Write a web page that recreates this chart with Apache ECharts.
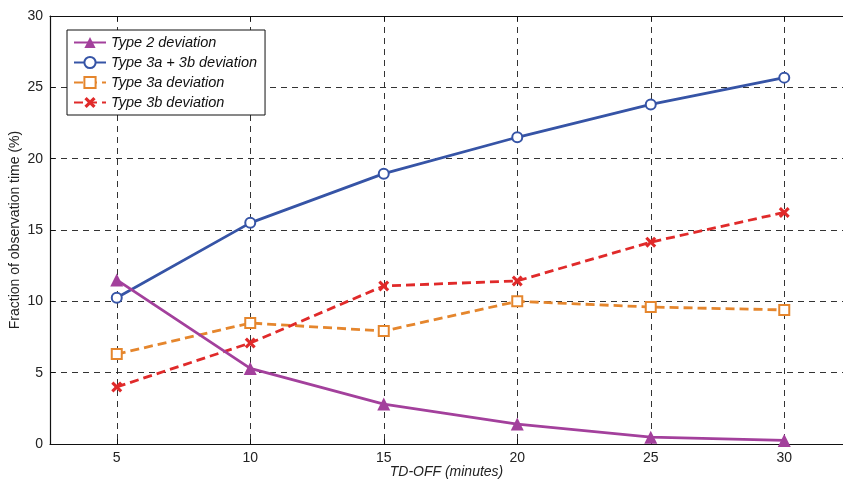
<!DOCTYPE html>
<html>
<head>
<meta charset="utf-8">
<script src="https://cdn.jsdelivr.net/npm/echarts@6/dist/echarts.min.js"></script>
<style>
  html, body { margin: 0; padding: 0; background: #fff; }
  #chart { width: 843px; height: 481px; }
</style>
</head>
<body>
<div id="chart"></div>
<script>
// TD-OFF durations (minutes)
const tdOff = [5, 10, 15, 20, 25, 30];
// Fraction of observation time (%) per deviation type
const type2 = [11.5, 5.3, 2.8, 1.4, 0.48, 0.25];
const type3ab = [10.25, 15.5, 18.95, 21.5, 23.8, 25.68];
const type3a = [6.3, 8.48, 7.92, 10.0, 9.6, 9.4];
const type3b = [4.0, 7.08, 11.08, 11.43, 14.15, 16.23];
const xTicks = [5, 10, 15, 20, 25, 30];

const pairs = vals => tdOff.map((x, i) => [x, vals[i]]);
const crossPath = 'path://M2,0 L5,3 L8,0 L10,2 L7,5 L10,8 L8,10 L5,7 L2,10 L0,8 L3,5 L0,2 Z';
const font = "'Liberation Sans', Arial, sans-serif";

const chart = echarts.init(document.getElementById('chart'), null, { renderer: 'canvas' });

const gridDash = { show: true, lineStyle: { color: '#333', width: 1, type: [6, 5] } };

chart.setOption({
  animation: false,
  backgroundColor: '#fff',
  grid: { left: 50, right: 0, top: 16, bottom: 37, containLabel: false, outerBoundsMode: 'none' },
  legend: {
    orient: 'vertical',
    left: 67, top: 30,
    padding: [5, 8, 5, 6],
    itemWidth: 32, itemHeight: 14, itemGap: 5,
    backgroundColor: '#fff',
    borderColor: '#111', borderWidth: 1, borderRadius: 0,
    textStyle: { fontFamily: font, fontSize: 14.5, fontStyle: 'italic', color: '#111' },
    data: ['Type 2 deviation', 'Type 3a + 3b deviation', 'Type 3a deviation', 'Type 3b deviation']
  },
  xAxis: [{
    type: 'value', min: 2.5, max: 32.2,
    name: 'TD-OFF (minutes)', nameLocation: 'middle', nameGap: 21, nameMoveOverlap: false,
    nameTextStyle: { fontFamily: font, fontSize: 14, fontStyle: 'italic', color: '#222' },
    axisLine: { show: true, onZero: false, lineStyle: { color: '#111', width: 1.2 } },
    axisTick: { show: true, inside: true, length: 5, customValues: xTicks, lineStyle: { color: '#111' } },
    axisLabel: { customValues: xTicks, fontFamily: font, fontSize: 14, color: '#222', margin: 7 },
    splitLine: gridDash
  }, {
    type: 'value', position: 'top', min: 2.5, max: 32.2,
    axisLine: { show: true, onZero: false, lineStyle: { color: '#111', width: 1.2 } },
    axisTick: { show: true, inside: true, length: 5, customValues: xTicks, lineStyle: { color: '#111' } },
    axisLabel: { show: false },
    splitLine: { show: false }
  }],
  yAxis: {
    type: 'value', min: 0, max: 30, interval: 5,
    name: 'Fraction of observation time (%)', nameLocation: 'middle', nameGap: 28, nameMoveOverlap: false,
    nameTextStyle: { fontFamily: font, fontSize: 14, color: '#222' },
    axisLine: { show: true, lineStyle: { color: '#111', width: 1.2 } },
    axisTick: { show: true, inside: true, length: 5, lineStyle: { color: '#111' } },
    axisLabel: { fontFamily: font, fontSize: 14, color: '#222', margin: 7 },
    splitLine: gridDash
  },
  series: [{
    name: 'Type 2 deviation', type: 'line', data: pairs(type2),
    color: '#a3409c',
    lineStyle: { width: 2.8, color: '#a3409c' },
    symbol: 'triangle', symbolSize: 13,
    itemStyle: { color: '#a3409c' },
    z: 4
  }, {
    name: 'Type 3a + 3b deviation', type: 'line', data: pairs(type3ab),
    color: '#3654a6',
    lineStyle: { width: 2.8, color: '#3654a6' },
    symbol: 'emptyCircle', symbolSize: 10,
    itemStyle: { color: '#3654a6', borderWidth: 2.5, borderColor: '#3654a6' },
    z: 3
  }, {
    name: 'Type 3a deviation', type: 'line', data: pairs(type3a),
    color: '#e5862d',
    lineStyle: { width: 2.8, color: '#e5862d', type: [9, 5] },
    symbol: 'emptyRect', symbolSize: 10,
    itemStyle: { color: '#e5862d', borderWidth: 2.5, borderColor: '#e5862d' },
    z: 2
  }, {
    name: 'Type 3b deviation', type: 'line', data: pairs(type3b),
    color: '#e02a2a',
    lineStyle: { width: 2.8, color: '#e02a2a', type: [9, 5] },
    symbol: crossPath, symbolSize: 11,
    itemStyle: { color: '#e02a2a' },
    z: 2
  }]
});
</script>
</body>
</html>
